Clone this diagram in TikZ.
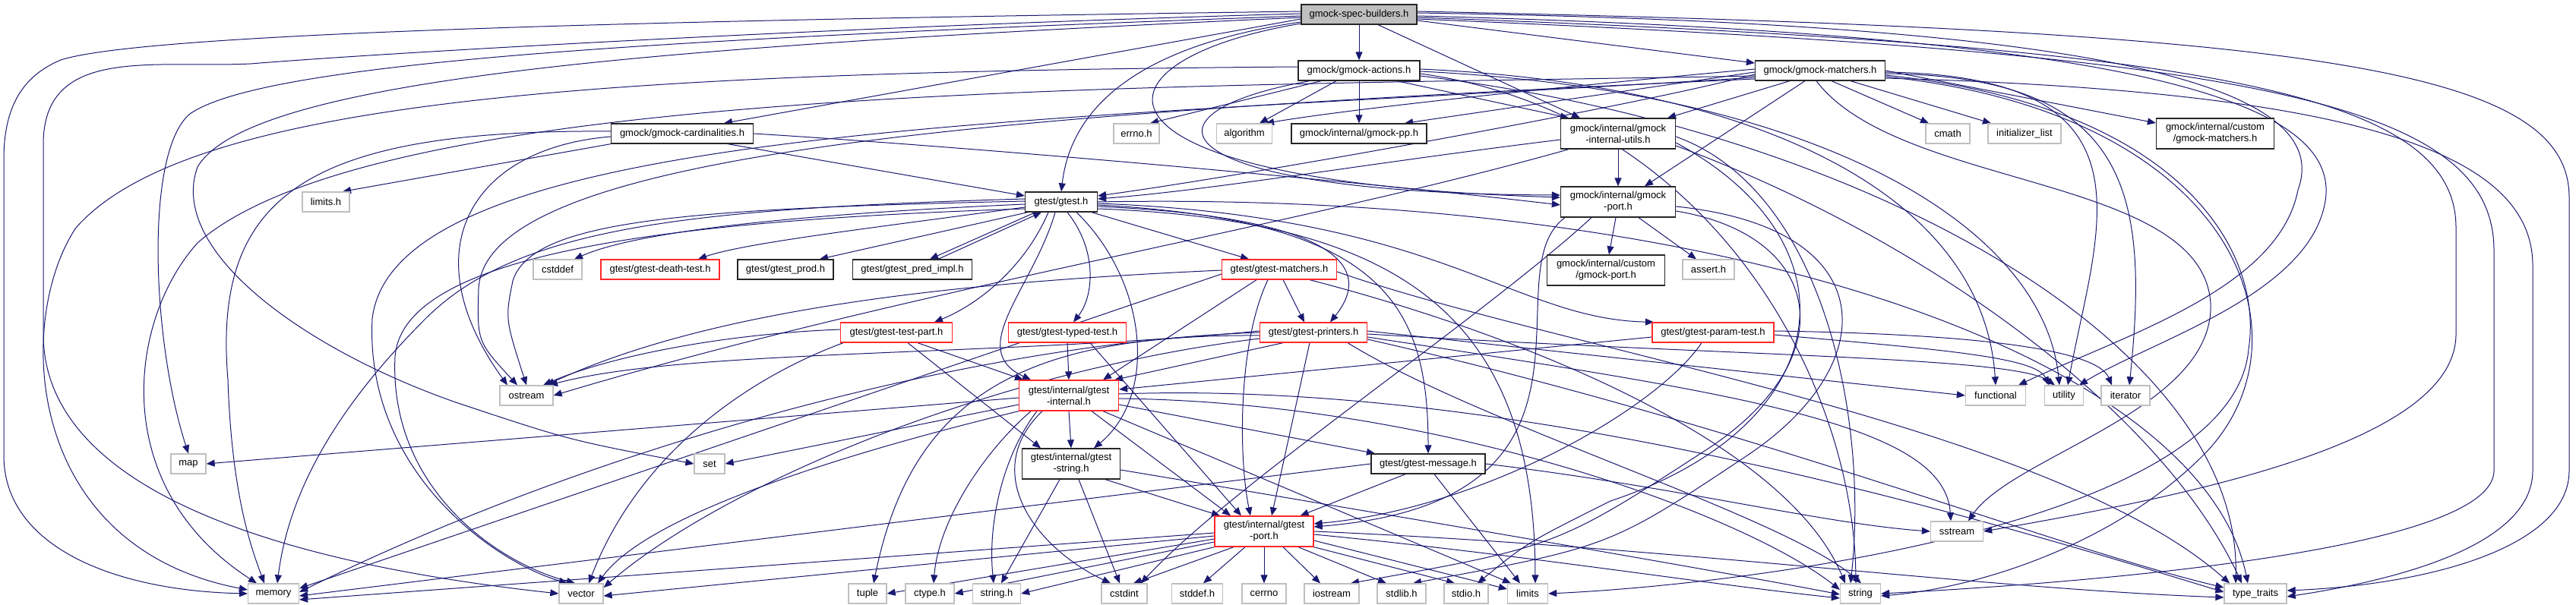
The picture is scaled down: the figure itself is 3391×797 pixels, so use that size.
\documentclass[tikz,border=0pt]{standalone}
\usepackage{fontspec}
\setmainfont{Liberation Sans}
\usetikzlibrary{arrows.meta}
\definecolor{mblue}{RGB}{25,25,112}
\definecolor{gsev}{RGB}{191,191,191}
\definecolor{bred}{RGB}{255,40,40}
\pgfdeclarelayer{bg}
\pgfsetlayers{bg,main}
\begin{document}
\begin{tikzpicture}[x=1pt,y=-1pt,
  basebox/.style={rectangle, inner sep=0pt, minimum height=26pt, align=center, fill=white, text=black, font=\fontsize{13}{15}\selectfont, line width=1.3pt},
  extbox/.style={basebox, draw=gsev},
  docbox/.style={basebox, draw=black!85},
  trnbox/.style={basebox, draw=bred},
  rootbox/.style={basebox, draw=black!85, fill=gsev},
  twol/.style={minimum height=40pt},
  edg/.style={draw=mblue, line width=1pt, -{Triangle[length=11pt,width=9pt]}}]
\useasboundingbox (0,0) rectangle (3391,797);

% ---------------- nodes ----------------
\node[rootbox, minimum width=152pt] (sb) at (1789,19) {gmock-spec-builders.h};
\node[docbox, minimum width=160pt] (act) at (1789,93) {gmock/gmock-actions.h};
\node[docbox, minimum width=171pt] (gmm) at (2396,93) {gmock/gmock-matchers.h};
\node[docbox, minimum width=187pt] (card) at (898,176) {gmock/gmock-cardinalities.h};
\node[extbox, minimum width=60pt] (errno) at (1496,176) {errno.h};
\node[extbox, minimum width=73pt] (algo) at (1638,176) {algorithm};
\node[docbox, minimum width=178pt] (pp) at (1789,176) {gmock/internal/gmock-pp.h};
\node[docbox, twol, minimum width=151pt] (utils) at (2130,176) {gmock/internal/gmock\\-internal-utils.h};
\node[extbox, minimum width=58pt] (cmath) at (2564,176) {cmath};
\node[extbox, minimum width=96pt] (initl) at (2665,176) {initializer\_list};
\node[docbox, twol, minimum width=155pt] (cgm) at (2916,176) {gmock/internal/custom\\/gmock-matchers.h};
\node[extbox, minimum width=62pt] (limitsh) at (429,266) {limits.h};
\node[docbox, minimum width=95pt] (gtest) at (1397,266) {gtest/gtest.h};
\node[docbox, twol, minimum width=151pt] (gport) at (2130,266) {gmock/internal/gmock\\-port.h};
\node[extbox, minimum width=64pt] (cstddef) at (734,355) {cstddef};
\node[trnbox, minimum width=156pt] (death) at (869,355) {gtest/gtest-death-test.h};
\node[docbox, minimum width=126pt] (prod) at (1034,355) {gtest/gtest\_prod.h};
\node[docbox, minimum width=157pt] (pred) at (1201,355) {gtest/gtest\_pred\_impl.h};
\node[trnbox, minimum width=151pt] (gtm) at (1684,355) {gtest/gtest-matchers.h};
\node[docbox, twol, minimum width=155pt] (cgp) at (2114,356) {gmock/internal/custom\\/gmock-port.h};
\node[extbox, minimum width=68pt] (assert) at (2249,355) {assert.h};
\node[trnbox, minimum width=147pt] (tpart) at (1180,438) {gtest/gtest-test-part.h};
\node[trnbox, minimum width=155pt] (typed) at (1405,438) {gtest/gtest-typed-test.h};
\node[trnbox, minimum width=141pt] (printers) at (1729,438) {gtest/gtest-printers.h};
\node[trnbox, minimum width=160pt] (param) at (2255,438) {gtest/gtest-param-test.h};
\node[extbox, minimum width=70pt] (ostream) at (693,521) {ostream};
\node[trnbox, twol, minimum width=131pt] (internal) at (1407,521) {gtest/internal/gtest\\-internal.h};
\node[extbox, minimum width=79pt] (functional) at (2627,521) {functional};
\node[extbox, minimum width=51pt] (utility) at (2717,521) {utility};
\node[extbox, minimum width=64pt] (iterator) at (2798,521) {iterator};
\node[extbox, minimum width=46pt] (map) at (248,611) {map};
\node[extbox, minimum width=40pt] (set) at (934,611) {set};
\node[docbox, twol, minimum width=129pt] (gstring) at (1410,611) {gtest/internal/gtest\\-string.h};
\node[docbox, minimum width=150pt] (message) at (1880,611) {gtest/gtest-message.h};
\node[extbox, minimum width=69pt] (sstream) at (2576,700) {sstream};
\node[trnbox, twol, minimum width=130pt] (port) at (1664,700) {gtest/internal/gtest\\-port.h};
\node[extbox, minimum width=67pt] (memory) at (360,782) {memory};
\node[extbox, minimum width=58pt] (vector) at (765,782) {vector};
\node[extbox, minimum width=50pt] (tuple) at (1142,782) {tuple};
\node[extbox, minimum width=64pt] (ctype) at (1224,782) {ctype.h};
\node[extbox, minimum width=63pt] (stringh) at (1312,782) {string.h};
\node[extbox, minimum width=60pt] (cstdint) at (1480,782) {cstdint};
\node[extbox, minimum width=67pt] (stddef) at (1576,782) {stddef.h};
\node[extbox, minimum width=58pt] (cerrno) at (1664,782) {cerrno};
\node[extbox, minimum width=72pt] (iostream) at (1753,782) {iostream};
\node[extbox, minimum width=64pt] (stdlib) at (1845,782) {stdlib.h};
\node[extbox, minimum width=58pt] (stdio) at (1930,782) {stdio.h};
\node[extbox, minimum width=53pt] (limits) at (2011,782) {limits};
\node[extbox, minimum width=53pt] (string) at (2449,782) {string};
\node[extbox, minimum width=82pt] (typetraits) at (2969,782) {type\_traits};

% ---------------- edges ----------------
\begin{pgfonlayer}{bg}
\fill[white] (0,0) rectangle (3391,797);
% gmock-spec-builders.h
\draw[edg] (sb.south) -- (act.north);
\draw[edg] ([yshift=-6pt]sb.west) -- ([xshift=55pt]card.north);
\draw[edg] ([yshift=-10pt]sb.west) .. controls (1500,60) and (1410,140) .. (gtest.north);
\draw[edg] ([xshift=25pt]sb.south) -- ([xshift=-50pt]utils.north);
\draw[edg] ([yshift=-12pt]sb.west) .. controls (1420,80) and (1400,240) .. ([yshift=6pt]gport.west);
\draw[edg] ([yshift=-8pt]sb.east) -- ([yshift=10pt]gmm.west);
\draw[edg] ([yshift=4pt]sb.west) .. controls (1000,25) and (200,40) .. (80,79) .. controls (30,100) and (5,140) .. (5,210) -- (5,600) .. controls (5,720) and (150,778) .. (memory.west);
\draw[edg] ([yshift=1pt]sb.west) .. controls (1100,35) and (500,70) .. (330,84) .. controls (200,90) and (57,60) .. (57,190) -- (57,440) .. controls (57,640) and (350,740) .. (vector.west);
\draw[edg] ([yshift=-2pt]sb.west) .. controls (900,50) and (350,80) .. (250,150) .. controls (190,200) and (200,450) .. (map.north);
\draw[edg] ([yshift=-4pt]sb.west) .. controls (900,60) and (330,100) .. (260,220) .. controls (220,330) and (400,460) .. (600,530) .. controls (750,580) .. (set.west);
\draw[edg] ([yshift=2pt]sb.east) .. controls (2700,30) and (3080,100) .. (3025,250) .. controls (3000,380) and (2800,440) .. ([xshift=30pt]functional.north);
\draw[edg] ([yshift=-2pt]sb.east) .. controls (2800,45) and (3090,130) .. (3060,270) .. controls (3035,390) and (2830,450) .. ([xshift=20pt]utility.north);
\draw[edg] ([yshift=-4pt]sb.east) .. controls (2900,60) and (3233,120) .. (3233,300) -- (3233,440) .. controls (3233,580) and (2900,650) .. (sstream.east);
\draw[edg] ([yshift=-6pt]sb.east) .. controls (2950,70) and (3283,130) .. (3283,330) -- (3283,620) .. controls (3283,720) and (2800,765) .. (string.east);
\draw[edg] ([yshift=4pt]sb.east) .. controls (3050,40) and (3382,90) .. (3382,260) -- (3382,620) .. controls (3382,720) and (3200,770) .. ([yshift=4pt]typetraits.east);
% gmock-actions.h
\draw[edg] ([xshift=-50pt]act.south) -- ([xshift=18pt]errno.north);
\draw[edg] ([xshift=-30pt]act.south) -- ([xshift=20pt]algo.north);
\draw[edg] (act.south) -- (pp.north);
\draw[edg] ([xshift=50pt]act.south) -- ([xshift=-65pt]utils.north);
\draw[edg] ([xshift=-65pt]act.south) .. controls (1480,150) and (1530,255) .. ([yshift=9pt]gport.west);
\draw[edg] ([yshift=5pt]act.west) .. controls (800,95) and (250,130) .. (100,300) .. controls (20,420) and (30,720) .. ([yshift=5pt]memory.west);
\draw[edg] ([yshift=2pt]act.east) .. controls (2300,110) and (2610,250) .. (functional.north);
\draw[edg] ([yshift=-1pt]act.east) .. controls (2400,120) and (2690,300) .. ([xshift=-6pt]utility.north);
\draw[edg] ([yshift=-4pt]act.east) .. controls (2250,150) and (2440,500) .. ([xshift=-6pt]string.north);
\draw[edg] ([yshift=-7pt]act.east) .. controls (2450,170) and (2950,450) .. ([xshift=-26pt]typetraits.north);
% gmock-cardinalities.h
\draw[edg] (card.south west) -- ([xshift=22pt]limitsh.north);
\draw[edg] ([yshift=3pt]card.west) .. controls (400,170) and (280,260) .. (300,500) .. controls (305,650) and (330,720) .. ([xshift=-12pt]memory.north);
\draw[edg] ([yshift=-4pt]card.west) .. controls (620,195) and (540,330) .. ([xshift=-25pt]ostream.north);
\draw[edg] (card.east) .. controls (1300,195) and (1800,240) .. ([yshift=-4pt]gport.west);
\draw[edg] ([xshift=60pt]card.south) -- ([yshift=8pt]gtest.west);
% gmock-matchers.h
\draw[edg] ([xshift=15pt]gmm.south) -- ([xshift=-25pt]cmath.north);
\draw[edg] ([xshift=40pt]gmm.south) -- ([xshift=-44pt]initl.north);
\draw[edg] (gmm.east) -- ([yshift=14pt]cgm.west);
\draw[edg] ([yshift=-2pt]gmm.west) -- ([xshift=60pt]pp.north);
\draw[edg] ([yshift=2pt]gmm.west) .. controls (2100,110) and (1800,140) .. ([xshift=28pt]algo.north);
\draw[edg] ([xshift=-40pt]gmm.south) -- ([xshift=65pt]utils.north);
\draw[edg] ([xshift=-20pt]gmm.south) -- ([xshift=35pt]gport.north);
\draw[edg] ([yshift=-5pt]gmm.west) .. controls (2150,140) and (1650,230) .. ([yshift=8pt]gtest.east);
\draw[edg] ([yshift=-4pt]gmm.east) .. controls (2800,100) and (2830,250) .. ([xshift=5pt]iterator.north);
\draw[edg] ([yshift=-2pt]gmm.east) .. controls (2850,100) and (2760,300) .. ([xshift=5pt]utility.north);
\draw[edg] ([yshift=-10pt]gmm.east) .. controls (3100,120) and (3334,200) .. (3334,350) -- (3334,620) .. controls (3334,720) and (3150,765) .. ([yshift=-4pt]typetraits.east);
\draw[edg] ([xshift=-5pt]gmm.south) .. controls (2500,250) and (2900,230) .. (2910,400) .. controls (2915,540) and (2650,600) .. ([xshift=15pt]sstream.north);
\draw[edg] ([yshift=-8pt]gmm.east) .. controls (2950,150) and (3050,450) .. (2900,600) .. controls (2780,720) and (2600,775) .. ([yshift=-3pt]string.east);
\draw[edg] ([yshift=-6pt]gmm.east) .. controls (2870,140) and (2980,330) .. (2960,460) .. controls (2940,690) and (2300,770) .. (limits.east);
\draw[edg] ([yshift=-7pt]gmm.west) .. controls (1500,115) and (500,110) .. (260,320) .. controls (170,420) and (140,640) .. ([xshift=-22pt]memory.north);
\draw[edg] ([yshift=-9pt]gmm.west) .. controls (1400,160) and (520,160) .. (490,420) .. controls (480,620) and (650,740) .. ([xshift=-18pt]vector.north);
\draw[edg] ([yshift=-11pt]gmm.west) .. controls (1300,150) and (640,200) .. (630,380) .. controls (628,450) .. ([xshift=-12pt]ostream.north);
% gmock-internal-utils.h
\draw[edg] (utils.south) -- (gport.north);
\draw[edg] ([yshift=-8pt]utils.west) .. controls (1800,215) and (1600,250) .. ([yshift=4pt]gtest.east);
\draw[edg] ([xshift=-65pt]utils.south) .. controls (1700,300) and (1200,380) .. (ostream.east);
\draw[edg] ([yshift=-12pt]utils.east) .. controls (2450,320) and (2420,560) .. (2120,660) .. controls (2010,715) .. ([xshift=15pt]stdio.north);
\draw[edg] ([yshift=-4pt]utils.east) .. controls (2400,250) and (2460,550) .. ([xshift=-13pt]string.north);
\draw[edg] ([yshift=-16pt]utils.east) .. controls (2550,320) and (2850,550) .. ([xshift=-18pt]typetraits.north);
% gmock-port.h
\draw[edg] ([xshift=-3pt]gport.south) -- ([xshift=4pt]cgp.north);
\draw[edg] ([xshift=27pt]gport.south) -- ([xshift=-16pt]assert.north);
\draw[edg] ([xshift=-35pt]gport.south) .. controls (1950,420) and (1620,640) .. ([xshift=22pt]cstdint.north);
\draw[edg] ([xshift=-70pt]gport.south) .. controls (1960,360) and (2150,660) .. ([yshift=6pt]port.east);
\draw[edg] ([yshift=-6pt]gport.east) .. controls (2480,300) and (2480,480) .. (2300,600) .. controls (2120,720) .. ([xshift=15pt]stdlib.north);
\draw[edg] ([yshift=-12pt]gport.east) .. controls (2400,310) and (2430,470) .. (2250,590) .. controls (2050,720) .. ([xshift=25pt]iostream.north);
% gtest.h
\draw[edg] ([yshift=-3pt]gtest.west) .. controls (1100,280) and (850,300) .. ([xshift=22pt]cstddef.north);
\draw[edg] ([yshift=-7pt]gtest.west) .. controls (1150,300) and (980,320) .. ([xshift=50pt]death.north);
\draw[edg] ([xshift=-44pt]gtest.south) -- ([xshift=45pt]prod.north);
\draw[edg] ([xshift=-34pt]gtest.south) -- ([xshift=23pt]pred.north);
\draw[edg] ([xshift=34pt]pred.north) -- ([xshift=-26pt]gtest.south);
\draw[edg] ([xshift=40pt]gtest.south) -- ([xshift=-40pt]gtm.north);
\draw[edg] ([xshift=-17pt]gtest.south) .. controls (1350,350) and (1290,400) .. ([xshift=50pt]tpart.north);
\draw[edg] ([xshift=8pt]gtest.south) .. controls (1445,330) and (1440,390) .. ([xshift=8pt]typed.north);
\draw[edg] ([yshift=-6pt]gtest.east) .. controls (1740,285) and (1815,345) .. ([xshift=22pt]printers.north);
\draw[edg] ([yshift=-2pt]gtest.east) .. controls (1900,285) and (1990,420) .. ([xshift=-78pt]param.north);
\draw[edg] ([yshift=-4pt]gtest.east) .. controls (1820,290) and (1880,400) .. (message.north);
\draw[edg] ([xshift=-8pt]gtest.south) .. controls (1360,380) and (1270,460) .. ([xshift=-50pt]internal.north);
\draw[edg] ([xshift=20pt]gtest.south) .. controls (1510,370) and (1525,520) .. ([xshift=30pt]gstring.north);
\draw[edg] ([yshift=1pt]gtest.west) .. controls (900,275) and (700,290) .. (675,370) .. controls (665,420) .. (ostream.north);
\draw[edg] ([yshift=4pt]gtest.west) .. controls (900,275) and (680,300) .. (560,420) .. controls (440,540) and (380,650) .. ([xshift=5pt]memory.north);
\draw[edg] ([yshift=-9pt]gtest.west) .. controls (900,290) and (530,330) .. (520,470) .. controls (512,640) and (650,740) .. ([xshift=-8pt]vector.north);
\draw[edg] ([yshift=-9pt]gtest.east) .. controls (1850,290) and (2020,420) .. ([xshift=10pt]limits.north);
\draw[edg] (gtest.east) .. controls (2300,250) and (2900,480) .. ([xshift=-10pt]typetraits.north);
% gtest-matchers.h
\draw[edg] ([xshift=5pt]gtm.south) -- ([xshift=-12pt]printers.north);
\draw[edg] ([xshift=-30pt]gtm.south) -- ([xshift=45pt]internal.north);
\draw[edg] ([xshift=-15pt]gtm.south) .. controls (1630,450) and (1630,600) .. ([xshift=-18pt]port.north);
\draw[edg] ([yshift=-6pt]gtm.west) -- ([yshift=7pt]memory.east);
\draw[edg] ([yshift=-1pt]gtm.west) .. controls (1300,370) and (950,400) .. ([xshift=26pt]ostream.north);
\draw[edg] ([xshift=40pt]gtm.south) .. controls (2000,440) and (2350,580) .. ([xshift=-20pt]string.north);
\draw[edg] ([yshift=-3pt]gtm.east) .. controls (2050,460) and (2700,560) .. ([xshift=-34pt]typetraits.north);
% gtest-printers.h
\draw[edg] ([xshift=-40pt]printers.south) -- ([xshift=-6pt]internal.north east);
\draw[edg] ([xshift=-5pt]printers.south) -- ([xshift=10pt]port.north);
\draw[edg] ([yshift=2pt]printers.east) -- (functional.west);
\draw[edg] ([yshift=-2pt]printers.east) .. controls (2300,470) and (2650,470) .. ([xshift=-12pt]utility.north);
\draw[edg] ([yshift=-6pt]printers.east) .. controls (2300,520) and (2560,560) .. ([xshift=-8pt]sstream.north);
\draw[edg] ([xshift=45pt]printers.south) .. controls (1950,560) and (2350,680) .. ([xshift=1pt]string.north);
\draw[edg] ([yshift=-9pt]printers.east) .. controls (2300,560) and (2700,720) .. ([yshift=8pt]typetraits.west);
\draw[edg] ([yshift=-4pt]printers.west) .. controls (1350,440) and (1200,520) .. ([xshift=8pt]tuple.north);
\draw[edg] (printers.west) .. controls (1300,450) and (800,580) .. ([yshift=2pt]memory.east);
\draw[edg] ([yshift=2pt]printers.west) .. controls (1300,470) and (900,460) .. ([xshift=30pt]ostream.north);
\draw[edg] ([yshift=-8pt]printers.west) .. controls (1300,490) and (950,640) .. ([yshift=8pt]vector.east);
% gtest-test-part.h
\draw[edg] ([xshift=28pt]tpart.south) -- ([xshift=-60pt]internal.north);
\draw[edg] ([xshift=15pt]tpart.south) -- ([xshift=-40pt]gstring.north);
\draw[edg] ([xshift=-70pt]tpart.south) .. controls (980,500) and (840,600) .. ([xshift=10pt]vector.north);
\draw[edg] ([yshift=4pt]tpart.west) .. controls (950,440) and (800,470) .. ([xshift=22pt]ostream.north);
% gtest-typed-test.h
\draw[edg] (typed.south) -- (internal.north);
\draw[edg] ([xshift=30pt]typed.south) -- ([xshift=-30pt]port.north);
% gtest-param-test.h
\draw[edg] ([yshift=2pt]param.east) .. controls (2600,440) and (2760,460) .. ([xshift=-18pt]iterator.north);
\draw[edg] ([yshift=-3pt]param.east) .. controls (2550,460) and (2680,470) .. ([xshift=-20pt]utility.north);
\draw[edg] ([yshift=-6pt]param.west) -- ([yshift=8pt]internal.east);
\draw[edg] ([xshift=-15pt]param.south) .. controls (2180,540) and (1950,670) .. ([yshift=10pt]port.east);
% gtest-internal.h
\draw[edg] (internal.south) -- (gstring.north);
\draw[edg] ([xshift=30pt]internal.south) -- ([xshift=-44pt]port.north);
\draw[edg] ([yshift=-12pt]internal.east) -- ([xshift=-70pt]message.north);
\draw[edg] ([xshift=-50pt]internal.south) .. controls (1290,600) and (1235,690) .. ([xshift=5pt]ctype.north);
\draw[edg] ([xshift=-42pt]internal.south) .. controls (1320,600) and (1300,690) .. ([xshift=-4pt]stringh.north);
\draw[edg] ([xshift=-35pt]internal.south) .. controls (1290,620) and (1360,720) .. ([xshift=-18pt]cstdint.north);
\draw[edg] ([xshift=45pt]internal.south) -- ([xshift=-22pt]limits.north);
\draw[edg] ([yshift=-3pt]internal.west) -- (map.east);
\draw[edg] ([yshift=-12pt]internal.west) -- (set.east);
\draw[edg] (internal.south west) .. controls (1100,600) and (850,680) .. ([xshift=22pt]vector.north);
\draw[edg] ([yshift=-4pt]internal.east) .. controls (1900,530) and (2300,680) .. ([yshift=5pt]string.west);
\draw[edg] ([yshift=2pt]internal.east) .. controls (2000,500) and (2600,680) .. ([yshift=2pt]typetraits.west);
% gtest-string.h
\draw[edg] ([xshift=-15pt]gstring.south) -- ([xshift=6pt]stringh.north);
\draw[edg] ([xshift=10pt]gstring.south) -- ([xshift=-6pt]cstdint.north);
\draw[edg] ([xshift=45pt]gstring.south) -- ([xshift=-58pt]port.north);
\draw[edg] ([yshift=-8pt]gstring.east) .. controls (1900,690) and (2250,750) .. ([yshift=-1pt]string.west);
% gtest-message.h
\draw[edg] ([xshift=-30pt]message.south) -- ([xshift=-18pt]port.north east);
\draw[edg] ([xshift=8pt]message.south) -- ([xshift=-10pt]limits.north);
\draw[edg] (message.west) -- ([yshift=-3pt]memory.east);
\draw[edg] (message.east) .. controls (2200,640) and (2400,690) .. (sstream.west);
% gtest-port.h
\draw[edg] ([yshift=-2pt]port.west) -- ([yshift=-8pt]memory.east);
\draw[edg] ([yshift=-6pt]port.west) -- ([yshift=-3pt]vector.east);
\draw[edg] ([yshift=-10pt]port.west) -- (tuple.east);
\draw[edg] ([yshift=-14pt]port.west) -- (ctype.east);
\draw[edg] (port.south west) -- (stringh.east);
\draw[edg] ([xshift=-40pt]port.south) -- ([xshift=12pt]cstdint.north);
\draw[edg] ([xshift=-25pt]port.south) -- ([xshift=8pt]stddef.north);
\draw[edg] (port.south) -- (cerrno.north);
\draw[edg] ([xshift=25pt]port.south) -- ([xshift=-15pt]iostream.north);
\draw[edg] ([xshift=45pt]port.south) -- ([xshift=-20pt]stdlib.north);
\draw[edg] (port.south east) -- ([xshift=-15pt]stdio.north);
\draw[edg] ([yshift=-12pt]port.east) -- ([yshift=6pt]limits.west);
\draw[edg] ([yshift=-4pt]port.east) .. controls (2000,730) and (2250,770) .. ([yshift=-6pt]string.west);
\draw[edg] (port.east) .. controls (2200,720) and (2600,775) .. ([yshift=-5pt]typetraits.west);
\end{pgfonlayer}
\end{tikzpicture}
\end{document}
